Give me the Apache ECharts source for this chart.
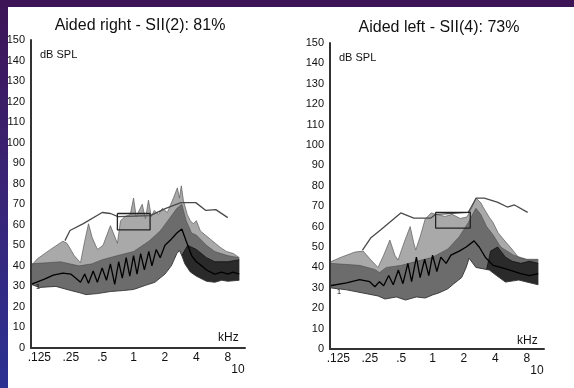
<!DOCTYPE html>
<html>
<head>
<meta charset="utf-8">
<script src="https://cdn.jsdelivr.net/npm/echarts@6.0.0/dist/echarts.min.js"></script>
<style>
html, body { margin: 0; padding: 0; }
#wrap { position: relative; width: 574px; height: 388px; overflow: hidden;
  background: linear-gradient(180deg, #3d1456 0%, #3a2374 45%, #2b3192 100%); }
#paper { position: absolute; left: 8px; top: 7px; right: 0; bottom: 0; background: #fff; }
#chart { position: absolute; left: 0; top: 0; width: 574px; height: 388px; }
</style>
</head>
<body>
<div id="wrap"><div id="paper"></div><div id="chart"></div></div>
<script>
// frequency axis (kHz, log scale) and level axis (dB SPL)
const fMin = 0.104, fMax = 11.7;
const kHzTicks = [0.125, 0.25, 0.5, 1, 2, 4, 8, 10];
const kHzLabels = ['.125', '.25', '.5', '1', '2', '4', '8', '10'];

// ---- aided right ----
const rPeakF = [0.104,0.12,0.16,0.21,0.23,0.27,0.31,0.34,0.37,0.40,0.45,0.51,0.60,0.70,0.75,0.83,0.93,1.0,1.06,1.21,1.30,1.39,1.48,1.58,1.73,1.89,2.11,2.41,2.63,2.75,2.87,3.0,3.27,3.5,3.74,4.0,4.37,4.88,5.45,6.07,6.79,7.76,9.06,10.3];
const rPeak = [40,43.5,48,52,51,45,41.5,52,60.5,54,48,50,59.6,51,62,64,65,73,64,70,63,72,64,67,65,68,66,73,78,73,79,72,65,62,60.5,62,57,55,53,51,49,47,46,44];
const rBandF = [0.104,0.2,0.3,0.4,0.5,0.7,1.0,1.4,1.8,2.2,2.6,2.9,3.2,3.6,4.0,5.0,6.0,8.0,10.3];
const rBand = [41,42,40,41,43,45,47,52,57,63,68,70,62,56,55,50,47,45,44];
const rDenseF = [2.9,3.3,4.0,5.0,6.0,8.0,10.3];
const rDense = [45,50,48,44,42,42,43];
const rLowF = [0.104,0.125,0.18,0.25,0.3,0.35,0.45,0.6,0.8,1.0,1.3,1.6,2.0,2.3,2.6,2.75,2.9,3.1,3.5,4.0,5.0,6.0,7.0,8.0,10.3];
const rLow = [31,29.5,30,28,27,26,26.5,27.5,28,28.5,30.5,32,36,40,46,47.5,45,41,37,35,32.5,32,33,32.5,33];
const rMedF = [0.104,0.14,0.17,0.21,0.25,0.28,0.31,0.34,0.37,0.41,0.45,0.5,0.55,0.6,0.66,0.72,0.78,0.85,0.92,1.0,1.08,1.17,1.27,1.4,1.5,1.65,1.8,2.0,2.3,2.6,2.9,3.2,3.6,4.0,4.5,5.0,6.0,7.0,8.0,9.0,10.3];
const rMed = [31,33.5,35.5,36.5,36,34,32,36,31.5,37.5,32,39,33,41,31,42,34,44,35,45,36,46,38,47,40,48,44,50,53,56,58,52,45,42,40,38,36,37,36,37,36];
const rTopF = [0.22,0.246,0.33,0.5,0.6,0.71,1.44,2.04,2.84,3.95,4.93,6.14,8.0];
const rTop = [52.3,57.2,60.6,66,65.5,64,64.5,68,70.8,70.8,67,67.4,63.5];
const rBoxF = [0.7, 1.44];
const rBoxDb = [57.5, 65.5];

// ---- aided left ----
const lPeakF = [0.104,0.133,0.18,0.216,0.257,0.30,0.34,0.39,0.435,0.467,0.532,0.61,0.66,0.69,0.76,0.85,0.97,1.08,1.32,1.54,1.84,2.14,2.39,2.61,2.91,3.05,3.48,3.8,4.25,4.85,5.65,6.74,8.4,10.3];
const lPeak = [42.6,45,47.5,48,43.6,40,46,53.4,46,43.6,52,60,52,48.5,55,63.7,66.7,66,65,66,64,64.7,69.6,74,71.6,69.6,64.7,62,57,53.4,49.5,44.6,43.6,43.6];
const lBandF = [0.104,0.2,0.28,0.31,0.36,0.5,0.7,1.0,1.4,1.8,2.2,2.6,2.9,3.3,3.8,4.5,6.0,8.0,10.3];
const lBand = [42,41,39,37.5,40,41,43,45,49,55,62,69,66,60,56,50,46,44,44];
const lDenseF = [3.3,3.6,4.2,5.0,5.8,7.0,8.5,10.3];
const lDense = [39,48,50,45,43,42,43,42];
const lLowF = [0.104,0.15,0.3,0.35,0.45,0.55,0.7,0.85,1.0,1.15,1.4,1.6,1.9,2.1,2.24,2.6,3.5,4.1,5.0,6.7,8.5,10.3];
const lLow = [30,29,26,24.5,25.5,24,25.5,25,26.5,27.5,29.5,32,35,40,44.5,40,38.7,36,32.8,33.8,32.5,31.5];
const lMedF = [0.104,0.15,0.2,0.25,0.28,0.31,0.34,0.38,0.42,0.47,0.52,0.58,0.63,0.7,0.76,0.84,0.92,1.0,1.1,1.2,1.35,1.5,1.8,2.1,2.5,2.8,3.2,3.8,4.5,5.5,7.0,8.5,10.3];
const lMed = [31,32.4,34,33,30.5,33,31,36,31.5,38.7,32,42,33,45,35,44,36,46,38,45,42,46,48,50,53,50,45,41,40,38.7,37,36,37];
const lTopF = [0.213,0.255,0.317,0.496,0.661,0.965,1.07,2.2,2.35,2.62,3.13,4.17,5.21,6.1,8.16];
const lTop = [48.5,54.4,58.3,66.7,64.2,64.2,66,67,69.6,74,74,72,69.6,70.6,67];
const lBoxF = [1.07, 2.3];
const lBoxDb = [59.3, 67];

function pts(f, v) {
  return f.map((x, i) => [Math.log2(x), v[i]]);
}
function box(f, db) {
  return pts([f[0], f[1], f[1], f[0], f[0]], [db[1], db[1], db[0], db[0], db[1]]);
}
function area(g, data, fill, line, lw) {
  return {
    type: 'line', xAxisIndex: g, yAxisIndex: g, data: data, showSymbol: false,
    lineStyle: { color: line, width: lw }, areaStyle: { color: fill, opacity: 1 }
  };
}
function line(g, data, color, lw) {
  return {
    type: 'line', xAxisIndex: g, yAxisIndex: g, data: data, showSymbol: false,
    lineStyle: { color: color, width: lw }
  };
}
function panel(g, d) {
  // white mask under the lower edge, carried on to the axis end
  const mask = pts(d.lowF, d.low).concat([[Math.log2(fMax), d.low[d.low.length - 1]]]);
  return [
    area(g, pts(d.peakF, d.peak), '#a9a9a9', '#5a5a5a', 0.7),
    area(g, pts(d.bandF, d.band), '#6c6c6c', '#444', 0.5),
    area(g, pts(d.denseF, d.dense), '#2a2a2a', '#111', 0.8),
    area(g, mask, '#ffffff', 'rgba(0,0,0,0)', 0),
    line(g, pts(d.lowF, d.low), '#333', 0.9),
    line(g, pts(d.medF, d.med), '#000', 1.3),
    line(g, pts(d.topF, d.top), '#4a4a4a', 1.3),
    line(g, box(d.boxF, d.boxDb), '#222', 1.3)
  ];
}

const font = '"Liberation Sans", Arial, sans-serif';
function xAxis(g) {
  return {
    gridIndex: g, type: 'value', min: Math.log2(fMin), max: Math.log2(fMax), z: 10,
    axisLine: { show: true, onZero: false, lineStyle: { color: '#333', width: 2 } },
    axisTick: { show: false }, splitLine: { show: false },
    axisLabel: {
      customValues: kHzTicks.map(Math.log2), margin: 4, fontSize: 12, color: '#111', fontFamily: font,
      formatter: function (v) {
        const i = kHzTicks.findIndex(t => Math.abs(Math.log2(t) - v) < 1e-6);
        const s = kHzLabels[i];
        return s === '10' ? '\n10' : s;
      }
    }
  };
}
function yAxis(g) {
  return {
    gridIndex: g, type: 'value', min: 0, max: 150, interval: 10, z: 10,
    axisLine: { show: true, onZero: false, lineStyle: { color: '#333', width: 2 } },
    axisTick: { show: false }, splitLine: { show: false },
    axisLabel: { margin: 6, fontSize: 11, color: '#111', fontFamily: font }
  };
}
function txt(x, y, s, size, align) {
  return {
    type: 'text', x: x, y: y, z: 20,
    style: { text: s, font: size + 'px ' + font, fill: '#111',
      align: align, verticalAlign: 'middle', textAlign: align, textVerticalAlign: 'middle' }
  };
}

const chart = echarts.init(document.getElementById('chart'));
chart.setOption({
  animation: false,
  grid: [
    { left: 31, top: 40, width: 214, height: 308 },
    { left: 330, top: 43, width: 214, height: 306 }
  ],
  xAxis: [xAxis(0), xAxis(1)],
  yAxis: [yAxis(0), yAxis(1)],
  graphic: [
    txt(140, 26, 'Aided right - SII(2): 81%', 16, 'center'),
    txt(439, 28, 'Aided left - SII(4): 73%', 16, 'center'),
    txt(40, 55, 'dB SPL', 11, 'left'),
    txt(339, 58, 'dB SPL', 11, 'left'),
    txt(218, 338, 'kHz', 12, 'left'),
    txt(517, 341, 'kHz', 12, 'left'),
    txt(38, 287, '1', 8, 'center'),
    txt(339, 292, '1', 8, 'center')
  ],
  series: [].concat(
    panel(0, { peakF: rPeakF, peak: rPeak, bandF: rBandF, band: rBand, denseF: rDenseF, dense: rDense,
      lowF: rLowF, low: rLow, medF: rMedF, med: rMed, topF: rTopF, top: rTop, boxF: rBoxF, boxDb: rBoxDb }),
    panel(1, { peakF: lPeakF, peak: lPeak, bandF: lBandF, band: lBand, denseF: lDenseF, dense: lDense,
      lowF: lLowF, low: lLow, medF: lMedF, med: lMed, topF: lTopF, top: lTop, boxF: lBoxF, boxDb: lBoxDb })
  )
});
</script>
</body>
</html>
